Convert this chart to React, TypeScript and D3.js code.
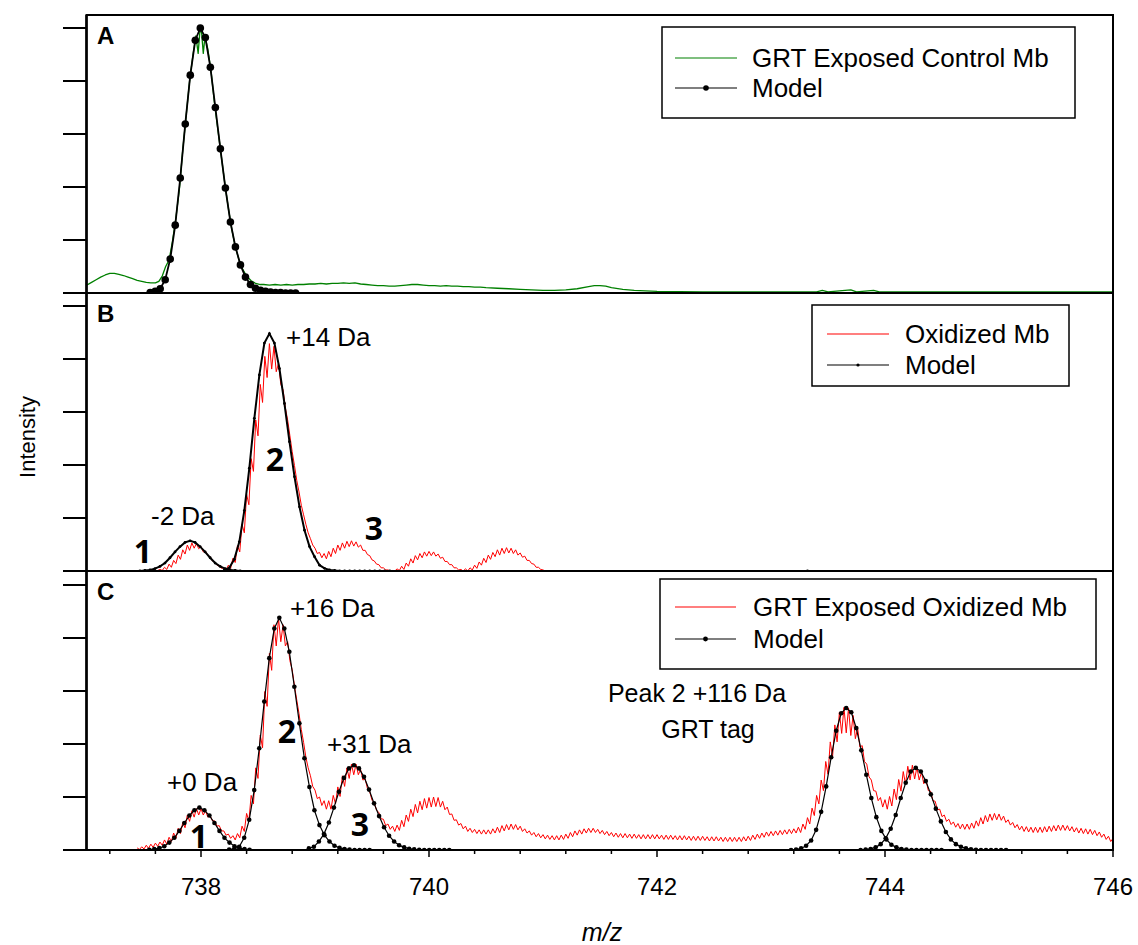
import React, { useEffect, useRef } from 'react';
import * as d3 from 'd3';

// axis values
const xDomain = [737, 746];
const xLabels = [738, 740, 742, 744, 746];
const xMinorTicks = [737.2, 737.6, 738.0, 738.4, 738.8, 739.2, 739.6, 740.0, 740.4, 740.8, 741.2, 741.6,
    742.0, 742.4, 742.8, 743.2, 743.6, 744.0, 744.4, 744.8, 745.2, 745.6, 746.0];
const yTicks = [0, 1, 2, 3, 4, 5];

// spectra are sampled every 0.02 m/z, model points every 0.044 m/z
const spectrumStep = 0.02;
const modelStep = 0.044;

// panel A: GRT exposed control Mb (m/z, intensity)
const greenA = [
    [737.00, 0.15], [737.04, 0.20], [737.08, 0.25], [737.12, 0.30], [737.16, 0.34], [737.20, 0.37], [737.24, 0.37],
    [737.28, 0.35], [737.32, 0.33], [737.36, 0.30], [737.40, 0.27], [737.44, 0.24], [737.48, 0.22], [737.52, 0.20],
    [737.56, 0.19], [737.60, 0.19], [737.63, 0.22], [737.66, 0.32], [737.69, 0.50], [737.72, 0.62], [737.75, 0.98],
    [737.78, 1.42], [737.81, 1.95], [737.84, 2.70], [737.87, 3.35], [737.90, 4.00], [737.93, 4.50], [737.955, 4.85],
    [737.975, 4.52], [737.99, 4.93], [738.005, 4.92], [738.02, 4.52], [738.035, 4.84], [738.06, 4.60], [738.09, 4.15],
    [738.12, 3.55], [738.15, 3.05], [738.18, 2.55], [738.21, 2.05], [738.24, 1.60], [738.27, 1.20], [738.30, 0.88],
    [738.33, 0.65], [738.36, 0.47], [738.40, 0.32], [738.44, 0.23], [738.48, 0.18], [738.52, 0.16],
    [738.55, 0.16], [738.60, 0.15], [738.65, 0.16], [738.70, 0.15], [738.75, 0.16], [738.80, 0.15], [738.85, 0.16],
    [738.90, 0.16], [738.95, 0.17], [739.00, 0.17], [739.05, 0.18], [739.10, 0.17], [739.15, 0.18], [739.20, 0.18],
    [739.25, 0.19], [739.30, 0.18], [739.35, 0.19], [739.40, 0.17], [739.45, 0.16], [739.50, 0.15], [739.55, 0.14],
    [739.60, 0.14], [739.65, 0.13], [739.70, 0.13], [739.75, 0.14], [739.80, 0.15], [739.85, 0.16], [739.90, 0.16],
    [739.95, 0.15], [740.00, 0.14], [740.05, 0.14], [740.10, 0.13], [740.15, 0.14], [740.20, 0.13], [740.25, 0.13],
    [740.30, 0.12], [740.35, 0.12], [740.40, 0.11], [740.45, 0.11], [740.50, 0.10], [740.60, 0.09], [740.70, 0.08],
    [740.80, 0.07], [740.90, 0.06], [741.00, 0.05], [741.10, 0.05], [741.20, 0.06], [741.30, 0.08], [741.40, 0.12],
    [741.45, 0.14], [741.50, 0.14], [741.55, 0.13], [741.60, 0.10], [741.70, 0.07], [741.80, 0.05], [741.90, 0.04],
    [742.00, 0.03], [742.20, 0.025], [742.40, 0.02], [742.60, 0.02], [742.80, 0.02], [743.00, 0.02], [743.20, 0.02],
    [743.40, 0.02], [743.45, 0.05], [743.50, 0.02], [743.70, 0.06], [743.75, 0.02], [743.90, 0.05], [743.95, 0.02],
    [744.20, 0.02], [744.50, 0.02], [745.00, 0.02], [745.50, 0.02], [746.00, 0.02],
];

// panel B: oxidized Mb
const redBStart = 737.60;
const redB = [
    0.00, 0.01, 0.03, 0.01, 0.07, 0.03, 0.13, 0.07, 0.20, 0.14, 0.30, 0.22, 0.40, 0.32, 0.49, 0.39, 0.53, 0.43,
    0.52, 0.42, 0.46, 0.36, 0.37, 0.29, 0.27, 0.19, 0.17, 0.11, 0.09, 0.05, 0.06, 0.02, 0.11, 0.05, 0.24, 0.16,
    0.48, 0.36, 0.88, 0.72, 1.45, 1.25, 2.12, 1.88, 2.85, 2.55, 3.52, 3.18, 4.05, 3.65, 4.29, 3.81, 4.24, 3.76,
    3.92, 3.52, 3.42, 3.08, 2.85, 2.55, 2.25, 1.99, 1.71, 1.49, 1.24, 1.06, 0.88, 0.72, 0.61, 0.49, 0.43, 0.33,
    0.35, 0.25, 0.33, 0.23, 0.37, 0.27, 0.43, 0.33, 0.49, 0.39, 0.53, 0.43, 0.56, 0.46, 0.57, 0.47, 0.55, 0.45,
    0.49, 0.39, 0.39, 0.31, 0.29, 0.21, 0.19, 0.13, 0.12, 0.06, 0.06, 0.02, 0.02, 0.00, 0.01, 0.00, 0.04, 0.01,
    0.09, 0.03, 0.15, 0.09, 0.23, 0.15, 0.29, 0.21, 0.33, 0.25, 0.36, 0.28, 0.37, 0.29, 0.36, 0.28, 0.32, 0.24,
    0.26, 0.18, 0.18, 0.12, 0.12, 0.06, 0.06, 0.02, 0.03, 0.00, 0.04, 0.00, 0.06, 0.02, 0.11, 0.05, 0.17, 0.11,
    0.24, 0.16, 0.30, 0.22, 0.35, 0.27, 0.40, 0.30, 0.43, 0.33, 0.44, 0.34, 0.43, 0.33, 0.40, 0.30, 0.34, 0.26,
    0.28, 0.20, 0.20, 0.14, 0.13, 0.07, 0.07, 0.03, 0.02, 0.00, 0.00,
];

// panel C: GRT exposed oxidized Mb
const redCStart = 737.44;
const redC = [
    0.04, 0.01, 0.06, 0.02, 0.09, 0.03, 0.11, 0.05, 0.13, 0.07, 0.15, 0.09, 0.19, 0.11, 0.24, 0.16, 0.32, 0.22,
    0.41, 0.31, 0.52, 0.42, 0.66, 0.54, 0.74, 0.62, 0.78, 0.66, 0.78, 0.66, 0.74, 0.62, 0.65, 0.55, 0.55, 0.45,
    0.46, 0.36, 0.36, 0.28, 0.30, 0.22, 0.27, 0.19, 0.31, 0.23, 0.45, 0.35, 0.69, 0.55, 1.03, 0.87, 1.55, 1.35,
    2.17, 1.93, 2.99, 2.71, 3.71, 3.39, 4.25, 3.85, 4.37, 3.93, 4.25, 3.85, 3.93, 3.57, 3.40, 3.10, 2.83, 2.57,
    2.27, 2.03, 1.75, 1.55, 1.40, 1.20, 1.13, 0.97, 1.00, 0.84, 0.93, 0.77, 0.93, 0.77, 1.03, 0.87, 1.19, 1.01,
    1.40, 1.20, 1.55, 1.35, 1.62, 1.42, 1.62, 1.42, 1.52, 1.32, 1.34, 1.16, 1.10, 0.94, 0.89, 0.75, 0.71, 0.59,
    0.58, 0.46, 0.49, 0.39, 0.45, 0.35, 0.47, 0.37, 0.56, 0.44, 0.66, 0.54, 0.77, 0.63, 0.86, 0.70, 0.92, 0.76,
    0.97, 0.79, 0.99, 0.81, 1.00, 0.82, 0.99, 0.81, 0.92, 0.76, 0.81, 0.67, 0.68, 0.56, 0.57, 0.47, 0.50, 0.40,
    0.45, 0.35, 0.41, 0.33, 0.39, 0.31, 0.38, 0.30, 0.38, 0.30, 0.38, 0.30, 0.40, 0.32, 0.43, 0.33, 0.46, 0.36,
    0.48, 0.38, 0.49, 0.39, 0.48, 0.38, 0.45, 0.35, 0.40, 0.32, 0.36, 0.28, 0.33, 0.25, 0.31, 0.23, 0.29, 0.21,
    0.28, 0.20, 0.27, 0.19, 0.27, 0.19, 0.28, 0.20, 0.30, 0.22, 0.33, 0.25, 0.36, 0.28, 0.38, 0.30, 0.40, 0.32,
    0.41, 0.33, 0.41, 0.33, 0.39, 0.31, 0.37, 0.29, 0.35, 0.27, 0.33, 0.25, 0.32, 0.24, 0.31, 0.23, 0.31, 0.23,
    0.30, 0.22, 0.30, 0.22, 0.29, 0.21, 0.29, 0.21, 0.29, 0.21, 0.29, 0.21, 0.29, 0.21, 0.28, 0.20, 0.28, 0.20,
    0.28, 0.20, 0.27, 0.19, 0.27, 0.19, 0.27, 0.19, 0.26, 0.18, 0.26, 0.18, 0.26, 0.18, 0.26, 0.18, 0.25, 0.17,
    0.25, 0.17, 0.25, 0.17, 0.24, 0.16, 0.24, 0.16, 0.24, 0.16, 0.24, 0.16, 0.24, 0.16, 0.25, 0.17, 0.26, 0.18,
    0.28, 0.20, 0.30, 0.22, 0.32, 0.24, 0.34, 0.26, 0.35, 0.27, 0.36, 0.28, 0.37, 0.29, 0.38, 0.30, 0.39, 0.31,
    0.40, 0.32, 0.43, 0.33, 0.49, 0.39, 0.61, 0.49, 0.79, 0.65, 1.03, 0.87, 1.32, 1.12, 1.67, 1.43, 2.04, 1.76,
    2.36, 2.04, 2.60, 2.20, 2.69, 2.21, 2.68, 2.16, 2.54, 2.10, 2.30, 1.94, 1.97, 1.67, 1.62, 1.38, 1.32, 1.12,
    1.11, 0.93, 0.99, 0.81, 0.95, 0.77, 1.01, 0.83, 1.15, 0.95, 1.33, 1.11, 1.48, 1.24, 1.58, 1.32, 1.60, 1.34,
    1.56, 1.32, 1.47, 1.25, 1.32, 1.12, 1.11, 0.93, 0.92, 0.76, 0.77, 0.63, 0.66, 0.54, 0.58, 0.48, 0.53, 0.43,
    0.50, 0.40, 0.49, 0.39, 0.49, 0.39, 0.51, 0.41, 0.55, 0.45, 0.61, 0.49, 0.65, 0.53, 0.68, 0.56, 0.69, 0.57,
    0.68, 0.56, 0.64, 0.52, 0.57, 0.47, 0.52, 0.42, 0.48, 0.38, 0.45, 0.35, 0.44, 0.34, 0.43, 0.33, 0.43, 0.33,
    0.43, 0.33, 0.44, 0.34, 0.45, 0.35, 0.46, 0.36, 0.47, 0.37, 0.47, 0.37, 0.46, 0.36, 0.44, 0.34, 0.42, 0.32,
    0.41, 0.31, 0.40, 0.30, 0.39, 0.29, 0.37, 0.27, 0.34, 0.24, 0.30, 0.20, 0.26, 0.16, 0.22,
];

// model fits (start m/z, values every modelStep)
const modelAStart = 737.554;
const modelA = [0.01, 0.03, 0.08, 0.25, 0.64, 1.28, 2.17, 3.19, 4.11, 4.77, 5.0, 4.82, 4.26, 3.5, 2.72, 1.98, 1.34,
    0.87, 0.53, 0.3, 0.16, 0.09, 0.05, 0.03, 0.02, 0.01, 0.01, 0, 0, 0];

const modelB1Start = 737.464;
const modelB1 = [0, 0.01, 0.02, 0.044, 0.087, 0.15, 0.25, 0.36, 0.46, 0.54, 0.57, 0.54, 0.46, 0.36, 0.25, 0.15,
    0.087, 0.044, 0.02, 0.01, 0];
const modelB2Start = 738.204;
const modelB2 = [0.02, 0.06, 0.22, 0.55, 1.14, 1.94, 2.88, 3.70, 4.30, 4.48, 4.30, 3.82, 3.16, 2.44, 1.78, 1.21,
    0.77, 0.46, 0.27, 0.11, 0.05, 0.02, 0.01, 0, 0, 0, 0, 0, 0, 0, 0, 0, 0, 0];
const modelB2End = [743.32, 0];

const modelC1Start = 737.546;
const modelC1 = [0.006, 0.016, 0.035, 0.07, 0.14, 0.23, 0.36, 0.51, 0.65, 0.75, 0.80, 0.75, 0.65, 0.51, 0.36,
    0.23, 0.14, 0.07, 0.035, 0.016, 0.006];
const modelC2Start = 738.247;
const modelC2 = [0.01, 0.02, 0.06, 0.23, 0.57, 1.13, 1.92, 2.80, 3.62, 4.18, 4.38, 4.18, 3.74, 3.08, 2.39, 1.73,
    1.19, 0.75, 0.47, 0.28, 0.16, 0.08, 0.04, 0.02, 0.01, 0, 0, 0, 0];
const modelC3Start = 738.946;
const modelC3 = [0.03, 0.06, 0.16, 0.3, 0.52, 0.8, 1.1, 1.36, 1.54, 1.60, 1.54, 1.38, 1.14, 0.88, 0.64, 0.43,
    0.27, 0.16, 0.09, 0.05, 0.025, 0.012, 0.005, 0, 0, 0, 0, 0, 0];
const modelC4Start = 743.176;
const modelC4 = [0, 0.01, 0.03, 0.08, 0.18, 0.38, 0.72, 1.2, 1.75, 2.25, 2.58, 2.68, 2.6, 2.3, 1.88, 1.42, 0.98,
    0.62, 0.36, 0.2, 0.1, 0.05, 0.02, 0.01, 0, 0, 0, 0, 0, 0, 0];
const modelC5Start = 743.786;
const modelC5 = [0, 0.01, 0.02, 0.05, 0.11, 0.22, 0.4, 0.66, 0.98, 1.27, 1.48, 1.55, 1.48, 1.30, 1.05, 0.78,
    0.54, 0.34, 0.2, 0.11, 0.06, 0.03, 0.015, 0.006, 0, 0, 0, 0, 0, 0];

const font = "'Liberation Sans', Arial, sans-serif";

const sampled = (start, step, values) => values.map((v, i) => [start + i * step, v]);

const App = () => {
    const ref = useRef(null);

    useEffect(() => {
        const svg = d3.select(ref.current);
        svg.selectAll('*').remove();

        const left = 87;
        const right = 1113;
        const unit = 53; // px per y tick
        const x = d3.scaleLinear().domain(xDomain).range([left, right]);

        const panels = [
            {
                id: 'A', top: 15, bottom: 293,
                spectra: [{ pts: greenA, color: '#008000', w: 1.3 }],
                models: [{ pts: sampled(modelAStart, modelStep, modelA), r: 3.8, w: 1.8 }],
            },
            {
                id: 'B', top: 293, bottom: 571,
                spectra: [{ pts: sampled(redBStart, spectrumStep, redB), color: '#ff0000', w: 1 }],
                models: [
                    { pts: sampled(modelB1Start, modelStep, modelB1), r: 1.4, w: 2 },
                    { pts: sampled(modelB2Start, modelStep, modelB2).concat([modelB2End]), r: 1.4, w: 2 },
                ],
            },
            {
                id: 'C', top: 571, bottom: 850,
                spectra: [{ pts: sampled(redCStart, spectrumStep, redC), color: '#ff0000', w: 1 }],
                models: [
                    { pts: sampled(modelC1Start, modelStep, modelC1), r: 2.3, w: 1.2 },
                    { pts: sampled(modelC2Start, modelStep, modelC2), r: 2.3, w: 1.2 },
                    { pts: sampled(modelC3Start, modelStep, modelC3), r: 2.3, w: 1.2 },
                    { pts: sampled(modelC4Start, modelStep, modelC4), r: 2.3, w: 1.2 },
                    { pts: sampled(modelC5Start, modelStep, modelC5), r: 2.3, w: 1.2 },
                ],
            },
        ];

        const defs = svg.append('defs');

        panels.forEach((p) => {
            const y = d3.scaleLinear().domain([0, 5]).range([p.bottom, p.bottom - 5 * unit]);
            const line = d3.line().x((d) => x(d[0])).y((d) => y(d[1]));

            defs.append('clipPath').attr('id', `clip-${p.id}`)
                .append('rect')
                .attr('x', left)
                .attr('y', p.top)
                .attr('width', right - left)
                .attr('height', p.bottom - p.top);

            const g = svg.append('g').attr('clip-path', `url(#clip-${p.id})`);

            p.spectra.forEach((s) => {
                g.append('path')
                    .datum(s.pts)
                    .attr('d', line)
                    .attr('fill', 'none')
                    .attr('stroke', s.color)
                    .attr('stroke-width', s.w)
                    .attr('stroke-linejoin', 'round');
            });

            p.models.forEach((m) => {
                g.append('path')
                    .datum(m.pts)
                    .attr('d', line)
                    .attr('fill', 'none')
                    .attr('stroke', '#000')
                    .attr('stroke-width', m.w);
                g.selectAll(null)
                    .data(m.pts)
                    .enter()
                    .append('circle')
                    .attr('cx', (d) => x(d[0]))
                    .attr('cy', (d) => y(d[1]))
                    .attr('r', m.r)
                    .attr('fill', '#000');
            });

            // y ticks (outside, no labels)
            svg.append('g')
                .selectAll('line')
                .data(yTicks)
                .enter()
                .append('line')
                .attr('x1', 63)
                .attr('x2', left)
                .attr('y1', (d) => y(d))
                .attr('y2', (d) => y(d))
                .attr('stroke', '#000')
                .attr('stroke-width', 2);

            svg.append('text')
                .attr('x', 97)
                .attr('y', p.top + 29)
                .attr('font-family', font)
                .attr('font-weight', 'bold')
                .attr('font-size', 24)
                .text(p.id);
        });

        // frame and panel separators
        svg.append('rect')
            .attr('x', left - 0.5)
            .attr('y', 15)
            .attr('width', right - left + 0.5)
            .attr('height', 835)
            .attr('fill', 'none')
            .attr('stroke', '#000')
            .attr('stroke-width', 2);
        [293, 571].forEach((yy) => {
            svg.append('line')
                .attr('x1', left - 0.5).attr('x2', right)
                .attr('y1', yy).attr('y2', yy)
                .attr('stroke', '#000')
                .attr('stroke-width', 2.2);
        });
        svg.append('line')
            .attr('x1', left - 0.5).attr('x2', left - 0.5)
            .attr('y1', 15).attr('y2', 850)
            .attr('stroke', '#000')
            .attr('stroke-width', 2.5);

        // x axis ticks and labels
        svg.append('g')
            .selectAll('line')
            .data(xMinorTicks)
            .enter()
            .append('line')
            .attr('x1', (d) => x(d))
            .attr('x2', (d) => x(d))
            .attr('y1', 850)
            .attr('y2', (d) => (xLabels.includes(Math.round(d * 10) / 10) ? 857 : 854))
            .attr('stroke', '#000')
            .attr('stroke-width', 1.5);
        svg.append('g')
            .selectAll('text')
            .data(xLabels)
            .enter()
            .append('text')
            .attr('x', (d) => x(d))
            .attr('y', 895)
            .attr('text-anchor', 'middle')
            .attr('font-family', font)
            .attr('font-size', 24)
            .text((d) => d);

        svg.append('text')
            .attr('x', 602)
            .attr('y', 941)
            .attr('text-anchor', 'middle')
            .attr('font-family', font)
            .attr('font-style', 'italic')
            .attr('font-size', 25)
            .text('m/z');

        svg.append('text')
            .attr('transform', 'translate(35,437) rotate(-90)')
            .attr('text-anchor', 'middle')
            .attr('font-family', font)
            .attr('font-size', 22)
            .text('Intensity');

        // annotations
        const notes = [
            { t: '+14 Da', x: 286, y: 346 },
            { t: '-2 Da', x: 151, y: 525 },
            { t: '+16 Da', x: 290, y: 617 },
            { t: '+31 Da', x: 327, y: 753 },
            { t: '+0 Da', x: 167, y: 791 },
        ];
        notes.forEach((n) => {
            svg.append('text')
                .attr('x', n.x)
                .attr('y', n.y)
                .attr('font-family', font)
                .attr('font-size', 26)
                .text(n.t);
        });
        svg.append('text').attr('x', 697).attr('y', 702).attr('text-anchor', 'middle')
            .attr('font-family', font).attr('font-size', 25).text('Peak 2 +116 Da');
        svg.append('text').attr('x', 708).attr('y', 738).attr('text-anchor', 'middle')
            .attr('font-family', font).attr('font-size', 25).text('GRT tag');

        const peakNums = [
            { t: '1', x: 143, y: 563 },
            { t: '2', x: 275, y: 471 },
            { t: '3', x: 374, y: 540 },
            { t: '1', x: 199, y: 848 },
            { t: '2', x: 287, y: 743 },
            { t: '3', x: 360, y: 836 },
        ];
        peakNums.forEach((n) => {
            svg.append('text')
                .attr('x', n.x)
                .attr('y', n.y)
                .attr('text-anchor', 'middle')
                .attr('font-family', "'Open Sans', sans-serif")
                .attr('font-weight', 'bold')
                .attr('font-size', 32)
                .text(n.t);
        });

        // legends
        const legends = [
            {
                box: [662, 27, 413, 91], rows: [58, 88], line: [675, 737], tx: 752, dot: 2.8,
                label: 'GRT Exposed Control Mb', color: '#008000',
            },
            {
                box: [812, 305, 257, 81], rows: [334, 365], line: [827, 889], tx: 905, dot: 1.6,
                label: 'Oxidized Mb', color: '#ff0000',
            },
            {
                box: [660, 579, 436, 90], rows: [607, 639], line: [675, 736], tx: 753, dot: 2.4,
                label: 'GRT Exposed Oxidized Mb', color: '#ff0000',
            },
        ];
        legends.forEach((l) => {
            const lg = svg.append('g');
            lg.append('rect')
                .attr('x', l.box[0]).attr('y', l.box[1])
                .attr('width', l.box[2]).attr('height', l.box[3])
                .attr('fill', '#fff')
                .attr('stroke', '#000')
                .attr('stroke-width', 1.5);
            lg.append('line')
                .attr('x1', l.line[0]).attr('x2', l.line[1])
                .attr('y1', l.rows[0]).attr('y2', l.rows[0])
                .attr('stroke', l.color).attr('stroke-width', 1.2);
            lg.append('line')
                .attr('x1', l.line[0]).attr('x2', l.line[1])
                .attr('y1', l.rows[1]).attr('y2', l.rows[1])
                .attr('stroke', '#000').attr('stroke-width', 1.2);
            lg.append('circle')
                .attr('cx', (l.line[0] + l.line[1]) / 2)
                .attr('cy', l.rows[1])
                .attr('r', l.dot)
                .attr('fill', '#000');
            [l.label, 'Model'].forEach((t, i) => {
                lg.append('text')
                    .attr('x', l.tx)
                    .attr('y', l.rows[i])
                    .attr('dy', '0.36em')
                    .attr('font-family', font)
                    .attr('font-size', 26)
                    .text(t);
            });
        });
    }, []);

    return (
        <svg
            ref={ref}
            width={1138}
            height={945}
            style={{ position: 'absolute', left: 0, top: 0, background: '#fff' }}
        />
    );
};

export default App;
